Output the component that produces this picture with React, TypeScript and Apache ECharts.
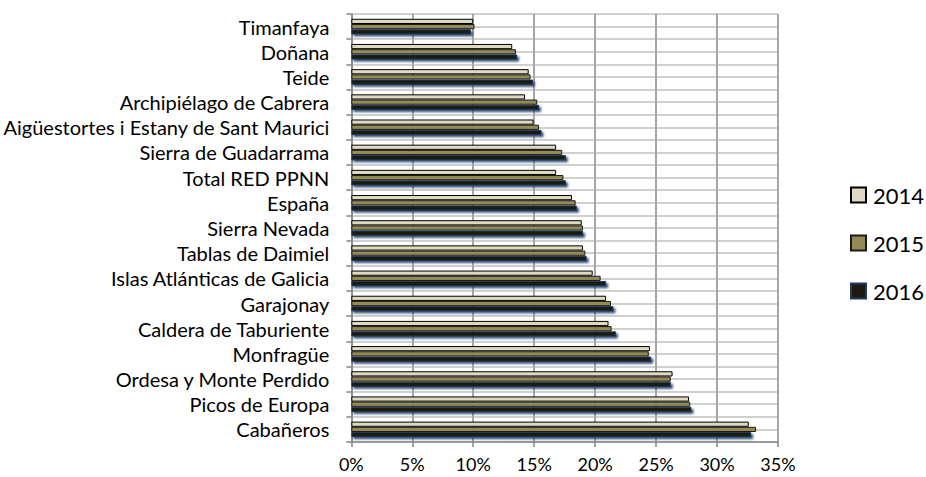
import React, { useEffect, useRef } from "react";
import * as echarts from "echarts";

const categories = [
  "Timanfaya",
  "Doñana",
  "Teide",
  "Archipiélago de Cabrera",
  "Aigüestortes i Estany de Sant Maurici",
  "Sierra de Guadarrama",
  "Total RED PPNN",
  "España",
  "Sierra Nevada",
  "Tablas de Daimiel",
  "Islas Atlánticas de Galicia",
  "Garajonay",
  "Caldera de Taburiente",
  "Monfragüe",
  "Ordesa y Monte Perdido",
  "Picos de Europa",
  "Cabañeros",
];

const values2014 = [10.0, 13.2, 14.55, 14.25, 14.95, 16.8, 16.8, 18.1, 18.9, 19.0, 19.8, 20.9, 21.1, 24.5, 26.35, 27.7, 32.6];
const values2015 = [10.1, 13.5, 14.7, 15.25, 15.4, 17.3, 17.4, 18.4, 19.0, 19.2, 20.45, 21.3, 21.35, 24.4, 26.2, 27.8, 33.2];
const values2016 = [9.8, 13.6, 14.9, 15.4, 15.6, 17.6, 17.6, 18.5, 19.0, 19.3, 20.9, 21.5, 21.7, 24.6, 26.2, 27.9, 32.8];

const seriesNames = ["2014", "2015", "2016"];
const xTicks = { min: 0, max: 35, interval: 5 };

const FONT = "Lato";

export default function App() {
  const ref = useRef<HTMLDivElement>(null);
  useEffect(() => {
    if (!ref.current) return;
    const chart = echarts.init(ref.current, undefined, { renderer: "svg" });
    const barBase = {
      type: "bar" as const,
      yAxisIndex: 0,
      barGap: "0%",
      barCategoryGap: "38%",
    };
    chart.setOption({
      animation: false,
      backgroundColor: "#ffffff",
      textStyle: { fontFamily: FONT },
      grid: { left: 351, right: 148, top: 14, bottom: 35, containLabel: false },
      legend: {
        orient: "vertical",
        left: 850,
        top: 184,
        padding: 0,
        icon: "rect",
        itemWidth: 15,
        itemHeight: 15,
        itemGap: 26,
        data: seriesNames,
        textStyle: { fontFamily: FONT, fontSize: 22, lineHeight: 22, color: "#000", padding: [0, 0, 0, 2] },
      },
      xAxis: {
        type: "value",
        min: xTicks.min,
        max: xTicks.max,
        interval: xTicks.interval,
        axisLine: { show: true, lineStyle: { color: "#868686", width: 1.5 } },
        axisTick: { show: true, length: 5, lineStyle: { color: "#868686", width: 1.5 } },
        axisLabel: {
          formatter: "{value}%",
          color: "#000",
          fontFamily: FONT,
          fontSize: 18,
          margin: 13,
        },
        splitLine: { show: true, lineStyle: { color: "#a6a6a6", width: 2 } },
      },
      yAxis: [
        {
          type: "category",
          data: categories,
          inverse: true,
          axisLine: { show: true, lineStyle: { color: "#868686", width: 1.5 } },
          axisTick: { show: true, length: 5, lineStyle: { color: "#868686", width: 1.5 } },
          axisLabel: {
            color: "#000",
            fontFamily: FONT,
            fontSize: 20,
            lineHeight: 20,
            margin: 22,
            interval: 0,
            hideOverlap: false,
          },
          splitLine: { show: false },
        },
        {
          type: "value",
          min: 0,
          max: categories.length * 2,
          interval: 1,
          position: "right",
          axisLine: { show: false },
          axisTick: { show: false },
          axisLabel: { show: false },
          splitLine: { show: true, lineStyle: { color: "#c0c0c0", width: 1.5 } },
        },
      ],
      series: [
        {
          ...barBase,
          name: seriesNames[0],
          data: values2014,
          itemStyle: { color: "#ddd9c3", borderColor: "#000", borderWidth: 1 },
        },
        {
          ...barBase,
          name: seriesNames[1],
          data: values2015,
          itemStyle: { color: "#948a54", borderColor: "#1a1a1a", borderWidth: 1 },
        },
        {
          ...barBase,
          name: seriesNames[2],
          data: values2016,
          itemStyle: {
            color: "#1d1b10",
            borderColor: "#1f3a60",
            borderWidth: 1,
            shadowColor: "rgba(31,58,100,0.9)",
            shadowBlur: 2,
            shadowOffsetX: 2,
            shadowOffsetY: 2,
          },
        },
      ],
    });
    return () => chart.dispose();
  }, []);
  return (
    <div
      ref={ref}
      style={{ position: "fixed", left: 0, top: 0, width: 926, height: 477, background: "#fff" }}
    />
  );
}
